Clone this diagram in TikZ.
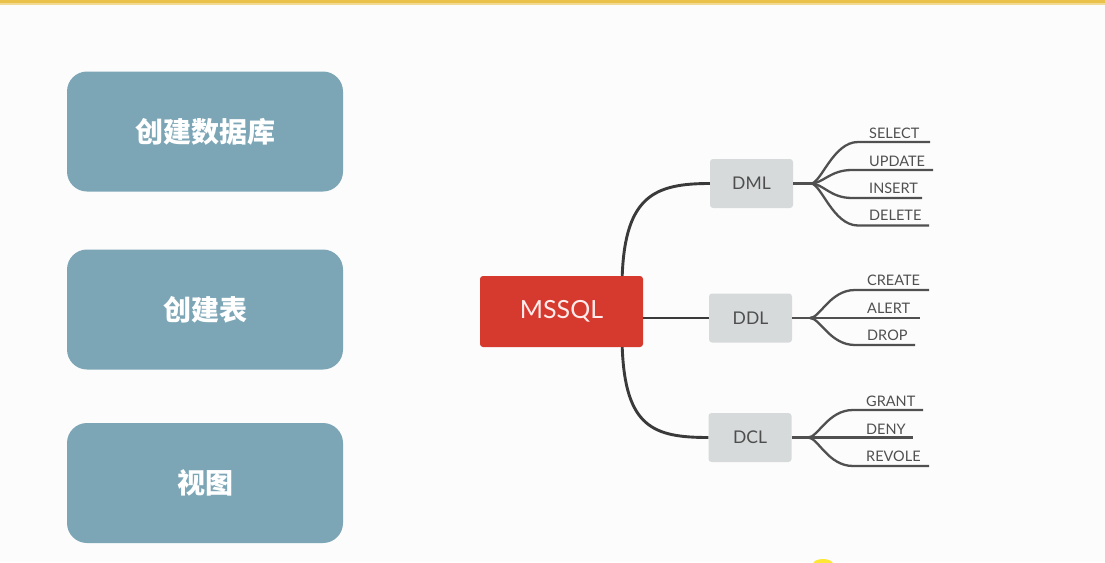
\documentclass[tikz,border=0pt]{standalone}
\usepackage{fontspec}
\setmainfont{Lato}
\newfontfamily\cjk{Noto Sans CJK SC}
\definecolor{bg}{HTML}{FCFCFC}
\definecolor{topbar}{HTML}{EAC14A}
\definecolor{bluebox}{HTML}{7CA6B6}
\definecolor{redbox}{HTML}{D6392E}
\definecolor{graybox}{HTML}{D6DADB}
\definecolor{dark}{HTML}{3A3A3A}
\definecolor{leafc}{HTML}{505050}
\tikzset{
  bigbox/.style={fill=bluebox, rounded corners=20pt, minimum width=276pt, minimum height=120pt, inner sep=0pt, text=white, font=\cjk\bfseries\fontsize{28}{32}\selectfont},
  rootbox/.style={fill=redbox, rounded corners=3pt, minimum width=163pt, minimum height=71pt, inner sep=0pt, text=white!92!red, font=\fontsize{25}{28}\selectfont},
  catbox/.style={fill=graybox, rounded corners=3pt, minimum width=83pt, minimum height=49pt, inner sep=0pt, text=dark!90!white, font=\fontsize{17.5}{20}\selectfont},
  leaftext/.style={text=leafc, font=\fontsize{14.5}{16}\selectfont, inner sep=0pt, anchor=west},
  mainline/.style={draw=dark, line width=2.9pt},
  leafline/.style={draw=leafc, line width=2.3pt},
}
\begin{document}
\begin{tikzpicture}[x=1pt,y=-1pt]
\useasboundingbox (0,0) rectangle (1105,562);
\fill[bg] (0,0) rectangle (1105,562);
\fill[topbar] (0,0) rectangle (1105,3);
\fill[topbar!60!white] (0,3) rectangle (1105,5);
\begin{scope}
\clip (0,0) rectangle (1105,562);
\fill[yellow!85!orange, opacity=0.8] (823,564) ellipse (10pt and 5pt);
\end{scope}

% left boxes
\node[bigbox] (b1) at (205,131.5) {创建数据库};
\node[bigbox] (b2) at (205,309.5) {创建表};
\node[bigbox] (b3) at (205,483) {视图};

% root
\node[rootbox] (root) at (561.5,311.5) {MSSQL};
\node[catbox] (dml) at (751.5,183.5) {DML};
\node[catbox] (ddl) at (750.5,318) {DDL};
\node[catbox] (dcl) at (750,437.5) {DCL};

\draw[mainline] ([xshift=-21pt]root.north east) .. controls +(3,-80) and +(-55,0) .. (dml.west);
\draw[mainline] (root.east |- ddl.west) -- (ddl.west);
\draw[mainline] ([xshift=-21pt]root.south east) .. controls +(3,80) and +(-55,0) .. (dcl.west);

% fork coordinates
\coordinate (f1) at (811,183.5);
\coordinate (f2) at (810,318);
\coordinate (f3) at (808,437.5);
\draw[leafline] (dml.east) -- (f1);
\draw[leafline] (ddl.east) -- (f2);
\draw[leafline] (dcl.east) -- (f3);

% DML leaves
\node[leaftext] (select) at (869,133) {SELECT};
\node[leaftext] (update) at (869,161) {UPDATE};
\node[leaftext] (insert) at (869,188) {INSERT};
\node[leaftext] (delete) at (869,215) {DELETE};
\coordinate (e1) at (930,142);
\coordinate (e2) at (933,170);
\coordinate (e3) at (922,198);
\coordinate (e4) at (929,225.5);
\draw[leafline] (f1) .. controls +(10,0) and +(-25,0) .. (858,142) -- (e1);
\draw[leafline] (f1) .. controls +(12,0) and +(-22,0) .. (852,170) -- (e2);
\draw[leafline] (f1) .. controls +(12,0) and +(-22,0) .. (852,198) -- (e3);
\draw[leafline] (f1) .. controls +(10,0) and +(-25,0) .. (858,225.5) -- (e4);

% DDL leaves
\node[leaftext] (create) at (867,280) {CREATE};
\node[leaftext] (alert) at (867,308) {ALERT};
\node[leaftext] (drop) at (867,335) {DROP};
\coordinate (g1) at (929,290);
\coordinate (g2) at (920,318);
\coordinate (g3) at (915,345);
\draw[leafline] (f2) .. controls +(10,0) and +(-25,0) .. (855,290) -- (g1);
\draw[leafline] (f2) -- (g2);
\draw[leafline] (f2) .. controls +(10,0) and +(-25,0) .. (855,345) -- (g3);

% DCL leaves
\node[leaftext] (grant) at (866,401) {GRANT};
\node[leaftext] (deny) at (866,429) {DENY};
\node[leaftext] (revole) at (866,456) {REVOLE};
\coordinate (h1) at (923,410);
\coordinate (h2) at (913,437.5);
\coordinate (h3) at (929,466);
\draw[leafline] (f3) .. controls +(10,0) and +(-25,0) .. (853,410) -- (h1);
\draw[leafline] (f3) -- (h2);
\draw[leafline] (f3) .. controls +(10,0) and +(-25,0) .. (853,466) -- (h3);
\end{tikzpicture}
\end{document}
